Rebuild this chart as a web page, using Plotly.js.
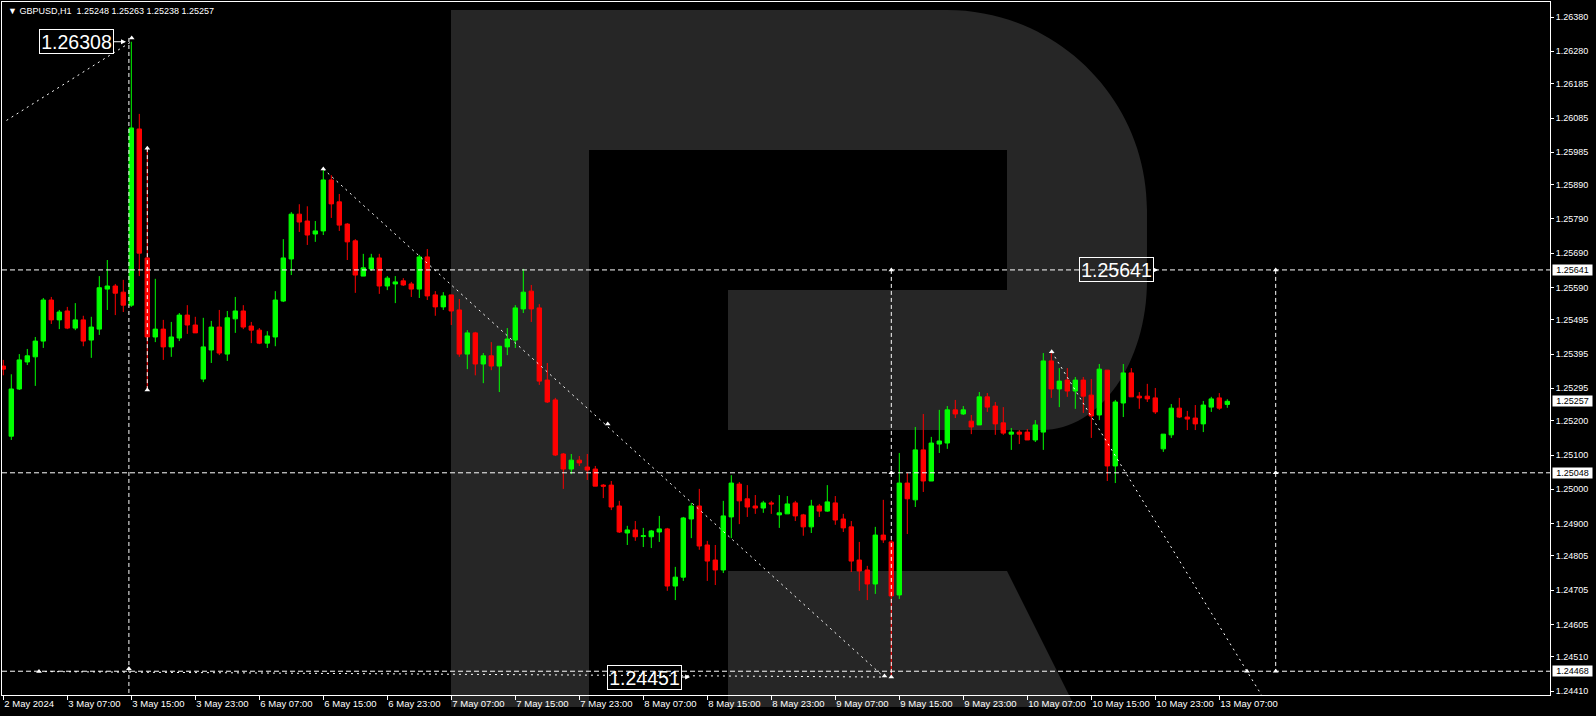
<!DOCTYPE html>
<html>
<head>
<meta charset="utf-8">
<script src="https://cdn.plot.ly/plotly-3.0.1.min.js"></script>
<style>
html,body{margin:0;padding:0;background:#000;overflow:hidden}
#chart{width:1596px;height:716px}
</style>
</head>
<body>
<div id="chart"></div>
<script>
// ---------------- DATA (GBPUSD, H1) ----------------
const symbolName = 'GBPUSD,H1';

const open = [
1.25360,1.25155,1.25293,1.25372,1.25387,1.25433,1.25553,1.25495,1.25521,1.25471,
1.25495,1.25436,1.25468,1.25585,1.25594,1.25576,1.25538,1.26053,1.25676,1.25445,
1.25468,1.25416,1.25442,1.25509,1.25480,1.25322,1.25407,1.25474,1.25395,1.25498,
1.25521,1.25477,1.25465,1.25427,1.25445,1.25550,1.25673,1.25804,1.25784,1.25746,
1.25755,1.25904,1.25840,1.25775,1.25726,1.25623,1.25644,1.25676,1.25594,1.25600,
1.25609,1.25600,1.25585,1.25679,1.25568,1.25533,1.25568,1.25524,1.25395,1.25457,
1.25366,1.25390,1.25360,1.25416,1.25436,1.25527,1.25579,1.25530,1.25319,1.25261,
1.25103,1.25059,1.25085,1.25065,1.25059,1.25012,1.25012,1.24951,1.24872,1.24881,
1.24862,1.24861,1.24875,1.24884,1.24717,1.24743,1.24913,1.24951,1.24837,1.24793,
1.24764,1.24919,1.25015,1.24972,1.24951,1.24945,1.24960,1.24925,1.24928,1.24960,
1.24925,1.24890,1.24951,1.24936,1.24960,1.24913,1.24890,1.24793,1.24764,1.24723,
1.24866,1.24846,1.24691,1.25018,1.24969,1.25115,1.25024,1.25132,1.25135,1.25232,
1.25220,1.25199,1.25188,1.25270,1.25243,1.25194,1.25161,1.25167,1.25167,1.25144,
1.25167,1.25375,1.25293,1.25319,1.25287,1.25319,1.25275,1.25217,1.25348,1.25068,
1.25252,1.25340,1.25272,1.25272,1.25267,1.25118,1.25159,1.25237,1.25211,1.25208,
1.25191,1.25240,1.25267,1.25248];

const high = [
1.25378,1.25336,1.25395,1.25410,1.25445,1.25559,1.25562,1.25524,1.25533,1.25544,
1.25507,1.25504,1.25623,1.25670,1.25600,1.25612,1.26308,1.26097,1.25997,1.25615,
1.25495,1.25489,1.25515,1.25538,1.25504,1.25501,1.25492,1.25524,1.25521,1.25562,
1.25538,1.25489,1.25471,1.25462,1.25579,1.25731,1.25810,1.25833,1.25827,1.25784,
1.25936,1.25918,1.25863,1.25778,1.25731,1.25688,1.25688,1.25688,1.25623,1.25623,
1.25617,1.25606,1.25685,1.25702,1.25579,1.25576,1.25568,1.25556,1.25465,1.25460,
1.25398,1.25430,1.25418,1.25471,1.25538,1.25644,1.25597,1.25541,1.25369,1.25267,
1.25106,1.25103,1.25097,1.25103,1.25068,1.25015,1.25024,1.24966,1.24893,1.24907,
1.24887,1.24881,1.24922,1.24887,1.24773,1.24919,1.24960,1.25001,1.24849,1.24837,
1.24966,1.25041,1.25021,1.25012,1.24983,1.24966,1.24966,1.24983,1.24980,1.24966,
1.24928,1.24969,1.24957,1.25012,1.24980,1.24928,1.24907,1.24846,1.24776,1.24890,
1.24969,1.24852,1.25106,1.25047,1.25182,1.25220,1.25153,1.25232,1.25243,1.25261,
1.25243,1.25217,1.25284,1.25281,1.25255,1.25240,1.25179,1.25173,1.25176,1.25202,
1.25398,1.25401,1.25354,1.25354,1.25328,1.25328,1.25322,1.25366,1.25348,1.25261,
1.25366,1.25354,1.25284,1.25308,1.25296,1.25161,1.25249,1.25267,1.25229,1.25246,
1.25258,1.25270,1.25281,1.25263];

const low = [
1.25333,1.25144,1.25290,1.25363,1.25302,1.25413,1.25483,1.25468,1.25468,1.25465,
1.25418,1.25384,1.25451,1.25524,1.25509,1.25518,1.25533,1.25623,1.25290,1.25430,
1.25378,1.25387,1.25433,1.25454,1.25457,1.25313,1.25369,1.25392,1.25375,1.25457,
1.25468,1.25427,1.25424,1.25413,1.25418,1.25547,1.25626,1.25752,1.25714,1.25723,
1.25743,1.25793,1.25755,1.25670,1.25574,1.25623,1.25638,1.25571,1.25582,1.25544,
1.25594,1.25562,1.25559,1.25553,1.25507,1.25524,1.25480,1.25387,1.25351,1.25333,
1.25310,1.25348,1.25284,1.25392,1.25413,1.25515,1.25489,1.25305,1.25252,1.25097,
1.25001,1.25044,1.25068,1.25027,1.25009,1.24974,1.24939,1.24872,1.24837,1.24849,
1.24831,1.24828,1.24846,1.24703,1.24676,1.24732,1.24857,1.24823,1.24732,1.24720,
1.24755,1.24857,1.24898,1.24919,1.24928,1.24931,1.24928,1.24887,1.24928,1.24907,
1.24864,1.24872,1.24919,1.24934,1.24896,1.24875,1.24758,1.24703,1.24676,1.24694,
1.24843,1.24451,1.24679,1.24869,1.24948,1.24992,1.25024,1.25106,1.25118,1.25208,
1.25217,1.25161,1.25188,1.25226,1.25159,1.25159,1.25115,1.25132,1.25144,1.25138,
1.25115,1.25267,1.25240,1.25270,1.25235,1.25223,1.25150,1.25202,1.25024,1.25018,
1.25211,1.25270,1.25235,1.25255,1.25220,1.25109,1.25150,1.25208,1.25173,1.25173,
1.25167,1.25226,1.25232,1.25238];

const close = [
1.25351,1.25293,1.25378,1.25390,1.25433,1.25553,1.25495,1.25518,1.25471,1.25495,
1.25433,1.25474,1.25589,1.25594,1.25573,1.25538,1.26056,1.25690,1.25445,1.25468,
1.25416,1.25445,1.25509,1.25480,1.25457,1.25416,1.25474,1.25398,1.25501,1.25521,
1.25474,1.25465,1.25427,1.25448,1.25553,1.25676,1.25804,1.25781,1.25743,1.25755,
1.25904,1.25834,1.25772,1.25723,1.25626,1.25647,1.25676,1.25594,1.25617,1.25606,
1.25597,1.25585,1.25679,1.25565,1.25533,1.25565,1.25521,1.25395,1.25457,1.25366,
1.25390,1.25360,1.25418,1.25439,1.25530,1.25576,1.25527,1.25316,1.25255,1.25100,
1.25059,1.25085,1.25077,1.25056,1.25009,1.25009,1.24948,1.24875,1.24881,1.24861,
1.24864,1.24878,1.24884,1.24717,1.24743,1.24916,1.24951,1.24834,1.24790,1.24764,
1.24922,1.25018,1.24966,1.24948,1.24945,1.24960,1.24957,1.24931,1.24957,1.24922,
1.24890,1.24951,1.24936,1.24963,1.24910,1.24887,1.24790,1.24761,1.24723,1.24866,
1.24852,1.24688,1.25018,1.24972,1.25115,1.25024,1.25135,1.25141,1.25232,1.25220,
1.25232,1.25182,1.25270,1.25240,1.25191,1.25164,1.25167,1.25161,1.25144,1.25188,
1.25375,1.25293,1.25316,1.25287,1.25319,1.25272,1.25214,1.25351,1.25068,1.25255,
1.25340,1.25270,1.25267,1.25264,1.25226,1.25161,1.25237,1.25211,1.25205,1.25191,
1.25246,1.25264,1.25237,1.25257];

// time-axis labels (one every 8 bars, starting at bar 0)
const timeLabels = ['2 May 2024','3 May 07:00','3 May 15:00','3 May 23:00','6 May 07:00','6 May 15:00',
  '6 May 23:00','7 May 07:00','7 May 15:00','7 May 23:00','8 May 07:00','8 May 15:00','8 May 23:00',
  '9 May 07:00','9 May 15:00','9 May 23:00','10 May 07:00','10 May 15:00','10 May 23:00','13 May 07:00'];
const timeLabelStep = 8;

// price-axis ticks
const priceTicks = [1.26380,1.26280,1.26185,1.26085,1.25985,1.25890,1.25790,1.25690,1.25590,1.25495,
  1.25395,1.25295,1.25200,1.25100,1.25000,1.24900,1.24805,1.24705,1.24605,1.24510,1.24410];

// horizontal levels drawn on the chart
const levels = [1.25641, 1.25048, 1.24468];

// dotted trend lines: [bar0, price0, bar1, price1]
const trendLines = [
  [0.4, 1.26078, 16.0, 1.26308],
  [40.0, 1.25936, 110.1, 1.24451],
  [131.05, 1.25402, 157.6, 1.24386],
  [4.46, 1.24467, 110.1, 1.24451]
];
// vertical dashed lines: [bar, priceTop, priceBottom]
const vLines = [
  [15.7, 1.26319, 1.24390],
  [18.0, 1.25997, 1.25290],
  [111.0, 1.25641, 1.24451],
  [159.05, 1.25641, 1.24468]
];
// anchor markers of the drawn objects
const anchorBars   = [16.05, 18, 18, 40, 75.55, 110.15, 111, 111, 111, 131.05, 159.05, 159.05, 159.05, 155.46, 4.46, 15.7];
const anchorPrices = [1.26319, 1.25997, 1.25290, 1.25936, 1.25191, 1.24454, 1.24451, 1.25641, 1.25048, 1.25402, 1.25641, 1.25048, 1.24468, 1.24468, 1.24467, 1.24475];

// big price labels: price, bar the pointer reaches, pixel offset of the box centre
const bigLabelPrices = [1.26308, 1.25641, 1.24451];
const bigLabelBars   = [15.34, 144.35, 85.85];
const bigLabelOffset = [-49.5, -41.5, -45.5];

// ---------------- CHART ----------------
const bars = open.map((_, i) => i);
const n = bars.length;
const FONT = 'Liberation Sans, Arial, sans-serif';

// plot frame in pixels (for the watermark drawn in paper units)
const FR = {l: 2, t: 2, w: 1548, h: 693};
function toPaper(path) {
  return path.replace(/(-?\d+(?:\.\d+)?),(-?\d+(?:\.\d+)?)/g, (m, x, y) =>
    ((+x - FR.l) / FR.w).toFixed(5) + ',' + ((FR.t + FR.h - +y) / FR.h).toFixed(5));
}
const wmColor = 'rgb(38,38,38)';
const watermark = [
  'M451,10 L589,10 L589,707 L451,707 Z',
  'M589,10 L947,10 C1057,10 1147,100 1147,210 L1147,280 C1147,363 1100,430 1042,430 L728,430 L728,290 L1007,290 L1007,150 L589,150 Z',
  'M728,571 L1007,571 L1075,707 L728,707 Z'
].map(p => ({type: 'path', xref: 'paper', yref: 'paper', path: toPaper(p),
  fillcolor: wmColor, line: {width: 0}, layer: 'below'}));

const shapes = [...watermark];
levels.forEach(p => shapes.push({type: 'line', xref: 'paper', x0: 0, x1: 1, yref: 'y', y0: p, y1: p,
  line: {color: '#ffffff', width: 1, dash: '5px,3px'}, layer: 'above'}));
trendLines.forEach(t => shapes.push({type: 'line', xref: 'x', yref: 'y', x0: t[0], y0: t[1], x1: t[2], y1: t[3],
  line: {color: '#ffffff', width: 1, dash: '2px,4px'}, layer: 'above'}));
vLines.forEach(v => shapes.push({type: 'line', xref: 'x', yref: 'y', x0: v[0], x1: v[0], y0: v[1], y1: v[2],
  line: {color: '#ffffff', width: 1, dash: '4px,3px'}, layer: 'above'}));

const annotations = [];
// header
annotations.push({xref: 'paper', yref: 'paper', x: 0, y: 1, xanchor: 'left', yanchor: 'middle', xshift: 4, yshift: -8.5,
  showarrow: false, align: 'left',
  text: '\u25BC ' + symbolName + '\u00a0\u00a0' + [open[n-1], high[n-1], low[n-1], close[n-1]].map(v => v.toFixed(5)).join(' '),
  font: {family: FONT, size: 9, color: '#ffffff'}});
// right-axis price boxes
[...levels, close[n-1]].forEach(p => annotations.push({xref: 'paper', x: 1, xanchor: 'left', xshift: 2,
  yref: 'y', y: p, yanchor: 'middle', showarrow: false, text: p.toFixed(5), bgcolor: '#ffffff',
  width: 39, height: 10, borderpad: 0, font: {family: FONT, size: 9, color: '#000000'}}));
// big labels
bigLabelPrices.forEach((p, i) => annotations.push({xref: 'x', yref: 'y', x: bigLabelBars[i], y: p,
  ax: bigLabelOffset[i], ay: 0, showarrow: true, arrowhead: 2, arrowsize: 1, arrowwidth: 1, arrowcolor: '#ffffff',
  standoff: 0, text: p.toFixed(5), bordercolor: '#ffffff', borderwidth: 1, borderpad: 0, width: 73, height: 23,
  bgcolor: 'rgba(0,0,0,0)',
  font: {family: FONT, size: 19.5, color: '#ffffff'}}));

const traces = [
  {type: 'candlestick', x: bars, open: open, high: high, low: low, close: close,
   increasing: {line: {color: '#00ff00', width: 1}, fillcolor: '#00ff00'},
   decreasing: {line: {color: '#ff0000', width: 1}, fillcolor: '#ff0000'},
   whiskerwidth: 0, hoverinfo: 'skip', showlegend: false},
  {type: 'scatter', mode: 'markers', x: anchorBars, y: anchorPrices, hoverinfo: 'skip', showlegend: false,
   cliponaxis: false, marker: {symbol: 'triangle-up', size: 5, color: '#ffffff'}}
];

const xTickVals = timeLabels.map((_, i) => i * timeLabelStep);
const layout = {
  width: 1596, height: 716,
  margin: {l: FR.l, r: 1596 - FR.l - FR.w, t: FR.t, b: 716 - FR.t - FR.h, pad: 0},
  paper_bgcolor: '#000000', plot_bgcolor: '#000000',
  showlegend: false, boxgap: 0.45, boxgroupgap: 0,
  xaxis: {type: 'linear', range: [-0.1625, 193.3375], tickmode: 'array', tickvals: xTickVals, ticktext: timeLabels,
    ticks: 'outside', ticklen: 4, tickwidth: 1, tickcolor: '#ffffff', ticklabelposition: 'outside right',
    tickangle: 0, showline: true, mirror: true, linecolor: '#ffffff', linewidth: 1, showgrid: false, zeroline: false,
    rangeslider: {visible: false}, automargin: false, fixedrange: true,
    tickfont: {family: FONT, size: 9.5, color: '#ffffff'}},
  yaxis: {side: 'right', range: [1.24398515, 1.2642415], tickmode: 'array', tickvals: priceTicks,
    ticktext: priceTicks.map(v => v.toFixed(5)), ticks: 'outside', ticklen: 3, tickwidth: 1, tickcolor: '#ffffff',
    showline: true, mirror: true, linecolor: '#ffffff', linewidth: 1, showgrid: false, zeroline: false,
    automargin: false, fixedrange: true, tickfont: {family: FONT, size: 9, color: '#ffffff'}},
  shapes: shapes,
  annotations: annotations
};

Plotly.newPlot('chart', traces, layout, {displayModeBar: false, staticPlot: true});
</script>
</body>
</html>
